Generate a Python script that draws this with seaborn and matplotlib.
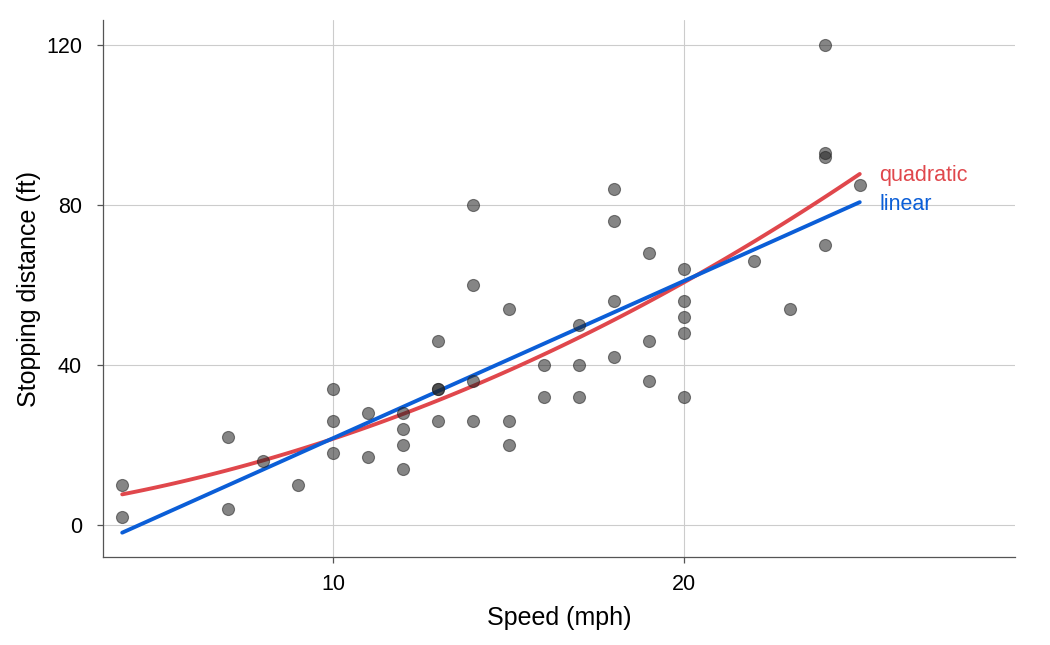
import numpy as np
import pandas as pd
import matplotlib
matplotlib.use("Agg")
import matplotlib.pyplot as plt
import seaborn as sns

# cars data (speed in mph, stopping distance in ft)
speed = [4, 4, 7, 7, 8, 9, 10, 10, 10, 11, 11, 12, 12, 12, 12, 13, 13, 13, 13,
         14, 14, 14, 14, 15, 15, 15, 16, 16, 17, 17, 17, 18, 18, 18, 18, 19, 19,
         19, 20, 20, 20, 20, 20, 22, 23, 24, 24, 24, 24, 25]
dist = [2, 10, 4, 22, 16, 10, 18, 26, 34, 17, 28, 14, 20, 24, 28, 26, 34, 34, 46,
        26, 36, 60, 80, 20, 26, 54, 32, 40, 32, 40, 50, 42, 56, 76, 84, 36, 46,
        68, 32, 48, 52, 56, 64, 66, 54, 70, 92, 93, 120, 85]
x_ticks = [10, 20]
y_ticks = [0, 40, 80, 120]

df = pd.DataFrame({"speed": speed, "dist": dist})

sns.set_theme(style="white")
plt.rcParams["font.family"] = ["Liberation Sans", "DejaVu Sans"]

red = "#E0474C"
blue = "#0B5ED7"

fig, ax = plt.subplots(figsize=(10.5, 6.45), dpi=100)

sns.regplot(data=df, x="speed", y="dist", ax=ax, order=2, ci=None, scatter=False,
            color=red, line_kws={"linewidth": 2.8, "zorder": 3})
sns.regplot(data=df, x="speed", y="dist", ax=ax, order=1, ci=None, scatter=False,
            color=blue, line_kws={"linewidth": 2.8, "zorder": 4})
sns.scatterplot(data=df, x="speed", y="dist", ax=ax, s=75, color="#222222",
                edgecolor="#222222", linewidth=0.8, alpha=0.55, zorder=5)

# end labels
xe = max(speed)
q = np.polyfit(speed, dist, 2)
l = np.polyfit(speed, dist, 1)
ax.text(xe + 0.55, np.polyval(q, xe) - 0.5, "quadratic", color=red, fontsize=15.5,
        va="center", ha="left")
ax.text(xe + 0.55, np.polyval(l, xe) - 0.5, "linear", color=blue, fontsize=15.5,
        va="center", ha="left")

ax.set_xlim(3.45, 29.43)
ax.set_ylim(-8, 126.25)
ax.set_xticks(x_ticks)
ax.set_yticks(y_ticks)
ax.grid(True, color="#cccccc", linewidth=0.8)
ax.set_axisbelow(True)
for s in ["top", "right"]:
    ax.spines[s].set_visible(False)
for s in ["left", "bottom"]:
    ax.spines[s].set_color("#555555")
    ax.spines[s].set_linewidth(0.9)
ax.tick_params(axis="both", length=4, width=0.9, color="#555555",
               labelsize=15.5, labelcolor="black", bottom=True, left=True)
ax.tick_params(axis="x", pad=8)
ax.tick_params(axis="y", pad=11)
ax.set_xlabel("Speed (mph)", fontsize=18, color="black", labelpad=8)
ax.set_ylabel("Stopping distance (ft)", fontsize=18, color="black", labelpad=4)

fig.subplots_adjust(left=0.098, right=0.967, top=0.969, bottom=0.136)
fig.savefig("out.png", dpi=100)
